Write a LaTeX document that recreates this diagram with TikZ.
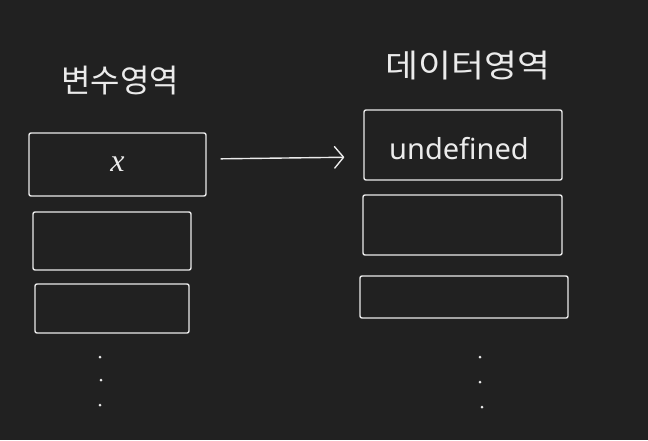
\documentclass[tikz,border=0pt]{standalone}
\usepackage{fontspec}
\setmainfont{Noto Sans}
\newfontfamily\krfont{Noto Sans CJK KR}
\newfontfamily\serifit{Liberation Serif}
\usetikzlibrary{arrows.meta}
\definecolor{bgc}{HTML}{212121}
\definecolor{ink}{HTML}{EBEBEB}
\tikzset{
  cell/.style={draw=ink, line width=1.4pt, rounded corners=2pt, inner sep=0pt, text=ink},
  lbl/.style={text=ink, font=\krfont\fontsize{32}{34}\selectfont, inner sep=0pt},
  dotnode/.style={circle, fill=ink, inner sep=0pt, minimum size=3pt},
  link/.style={draw=ink, line width=1.4pt, -{Straight Barb[angle=100:14pt, line cap=round, line join=round]}},
}
\begin{document}
\begin{tikzpicture}[x=1pt,y=-1pt]
\fill[bgc] (0,0) rectangle (648,440);
\useasboundingbox (0,0) rectangle (648,440);
% labels
\node[lbl] (lt) at (120,81) {변수영역};
\node[lbl, xscale=1.12] (rt) at (468,66) {데이터영역};
% left column
\node[cell, minimum width=177pt, minimum height=63pt, font=\serifit\itshape\fontsize{32}{34}\selectfont] (l1) at (117.5,164.5) {x};
\node[cell, minimum width=158pt, minimum height=58pt] (l2) at (112,241) {};
\node[cell, minimum width=154pt, minimum height=49pt] (l3) at (112,308.5) {};
% right column
\node[cell, minimum width=198pt, minimum height=70pt] (r1) at (463,145) {};
\node[text=ink, font=\fontsize{29}{31}\selectfont, inner sep=0pt] (ut) at (459,149) {undefined};
\node[cell, minimum width=199pt, minimum height=60pt] (r2) at (462.5,225) {};
\node[cell, minimum width=208pt, minimum height=42pt] (r3) at (464,297) {};
% arrow
\draw[link, shorten <=14pt, shorten >=19pt] ([yshift=5.5pt]l1.east) -- ([yshift=-12pt]r1.west);
% dots
\node[dotnode] (ld1) at (100,357) {};
\node[dotnode] (ld2) at (101,380) {};
\node[dotnode] (ld3) at (100,405) {};
\node[dotnode] (rd1) at (480,357) {};
\node[dotnode] (rd2) at (480,382) {};
\node[dotnode] (rd3) at (482,407) {};
\end{tikzpicture}
\end{document}
